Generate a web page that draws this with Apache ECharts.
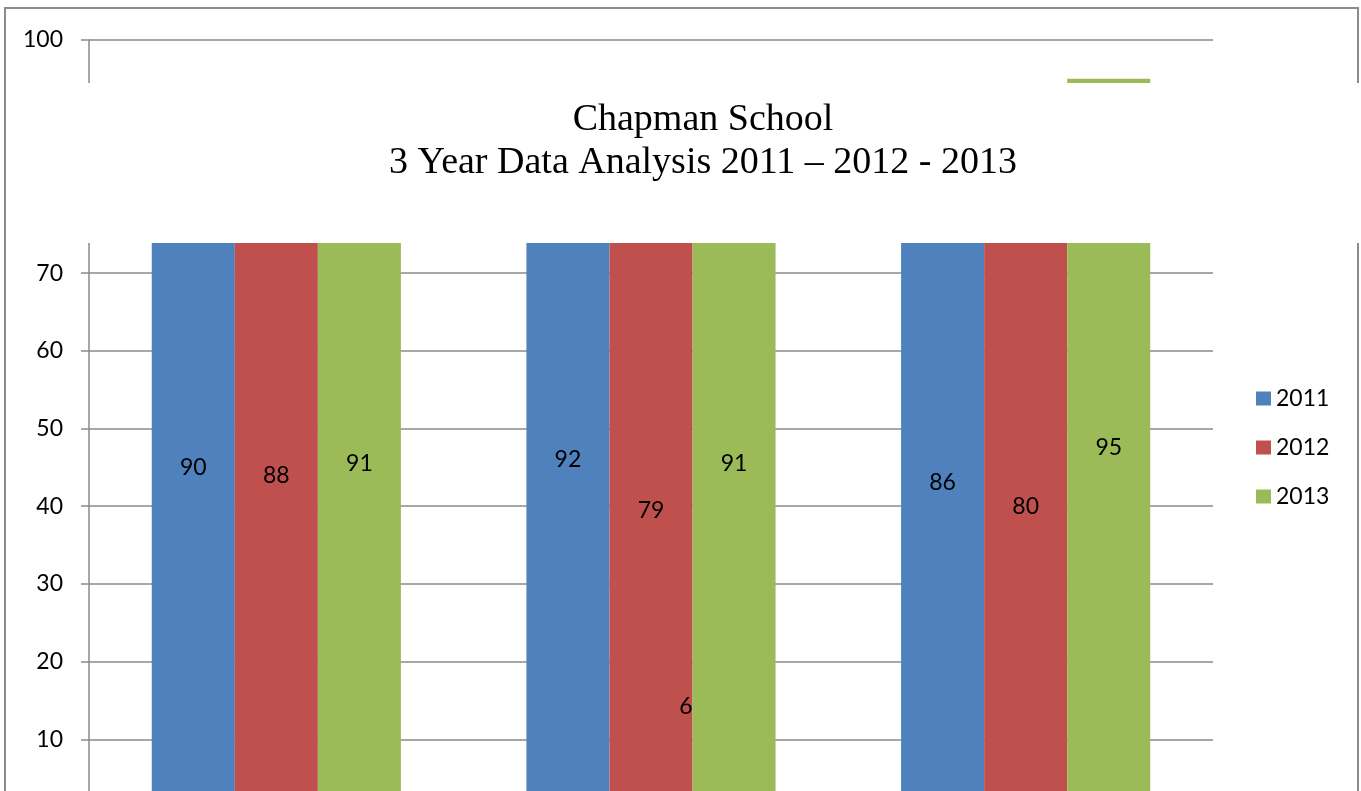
<!DOCTYPE html>
<html>
<head>
<meta charset="utf-8">
<script src="https://cdn.jsdelivr.net/npm/echarts@6/dist/echarts.min.js"></script>
<style>
html,body{margin:0;padding:0;background:#fff;}
#chart{width:1361px;height:791px;}
</style>
</head>
<body>
<div id="chart"></div>
<script>
const categories = ['Group A', 'Group B', 'Group C'];
const seriesNames = ['2011', '2012', '2013'];
const values2011 = [90, 92, 86];
const values2012 = [88, 79, 80];
const values2013 = [91, 91, 95];
const strayLabel = { category: 'Group B', value: 14.2, text: '6' };
const titleLines = ['Chapman School', '3 Year Data Analysis 2011 \u2013 2012 - 2013'];
const colors = ['#4F81BD', '#C0504D', '#9BBB59'];

const labelFont = 'Lato, "Open Sans", sans-serif';
const labelSize = 23;
const gridColor = '#8a8a8a';

function barSeries(name, data, color, extra) {
  return Object.assign({
    name: name,
    type: 'bar',
    data: data,
    barGap: '0%',
    barCategoryGap: '33.5%',
    itemStyle: { color: color },
    label: {
      show: true,
      position: 'inside',
      color: '#000',
      fontSize: labelSize,
      fontFamily: labelFont
    }
  }, extra || {});
}

const chart = echarts.init(document.getElementById('chart'));
chart.setOption({
  backgroundColor: '#fff',
  animation: false,
  color: colors,
  title: {
    text: titleLines.join('\n'),
    left: 698,
    textAlign: 'center',
    top: 94,
    z: 200,
    textStyle: {
      fontFamily: '"Liberation Serif", "Times New Roman", serif',
      fontWeight: 'normal',
      fontSize: 38,
      lineHeight: 43,
      color: '#000'
    }
  },
  legend: {
    orient: 'vertical',
    left: 1256,
    top: 387,
    padding: 0,
    itemWidth: 15,
    itemHeight: 14,
    itemGap: 26,
    icon: 'rect',
    data: seriesNames,
    textStyle: { fontSize: labelSize, fontFamily: labelFont, color: '#000', lineHeight: 22 }
  },
  grid: {
    left: 89,
    right: 148,
    top: 40,
    bottom: -26,
    containLabel: false,
    outerBoundsMode: 'none'
  },
  xAxis: {
    type: 'category',
    data: categories,
    axisLine: { lineStyle: { color: gridColor, width: 1.5 } },
    axisTick: { show: false },
    axisLabel: { show: false }
  },
  yAxis: {
    type: 'value',
    min: 0,
    max: 100,
    interval: 10,
    axisLine: { show: true, lineStyle: { color: gridColor, width: 1.5 } },
    axisTick: { show: true, length: 8, lineStyle: { color: gridColor, width: 1.5 } },
    splitLine: { lineStyle: { color: gridColor, width: 1.5 } },
    axisLabel: { margin: 26, fontSize: labelSize, fontFamily: labelFont, color: '#000' }
  },
  series: [
    barSeries(seriesNames[0], values2011, colors[0]),
    barSeries(seriesNames[1], values2012, colors[1], {
      markPoint: {
        symbol: 'circle',
        symbolSize: 0,
        silent: true,
        label: {
          show: true,
          position: 'inside',
          offset: [35, 0],
          color: '#000',
          fontSize: labelSize,
          fontFamily: labelFont,
          formatter: strayLabel.text
        },
        data: [{ coord: [strayLabel.category, strayLabel.value], value: strayLabel.text }]
      }
    }),
    barSeries(seriesNames[2], values2013, colors[2])
  ],
  graphic: [
    {
      type: 'rect',
      z: 90,
      silent: true,
      shape: { x: 5, y: 8, width: 1353, height: 900 },
      style: { fill: 'none', stroke: '#8c8c8c', lineWidth: 2 }
    },
    {
      type: 'rect',
      z: 100,
      silent: true,
      shape: { x: 12, y: 83, width: 1360, height: 160 },
      style: { fill: '#fff' }
    }
  ]
});
</script>
</body>
</html>
